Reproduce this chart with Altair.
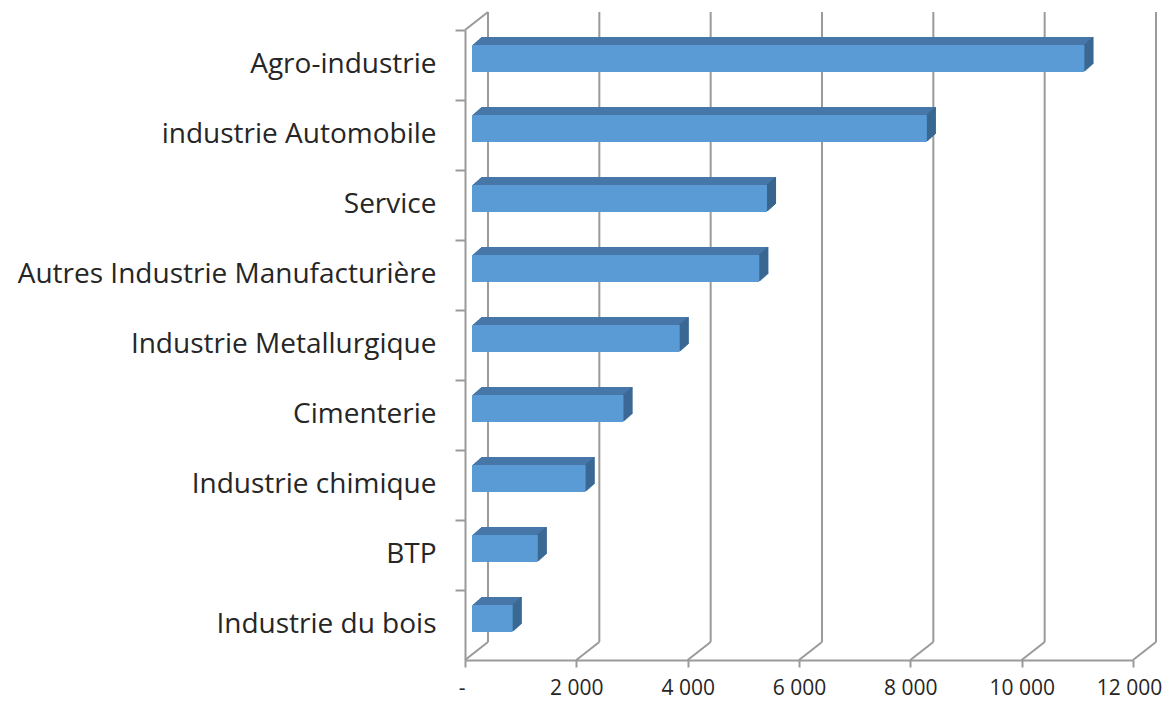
import altair as alt
import pandas as pd

categories = [
    "Agro-industrie",
    "industrie Automobile",
    "Service",
    "Autres Industrie Manufacturière",
    "Industrie Metallurgique",
    "Cimenterie",
    "Industrie chimique",
    "BTP",
    "Industrie du bois",
]
values = [11000, 8170, 5300, 5160, 3730, 2720, 2040, 1180, 730]
x_ticks = [0, 2000, 4000, 6000, 8000, 10000, 12000]

df = pd.DataFrame({"cat": categories, "value": values})
ticks_df = pd.DataFrame({"t": x_ticks})

W, H = 668, 630
DX, DY = 23, 18          # depth of back wall
BX, BY = 7, 6.5          # bar front-face depth shift
DEPTH = 9                # bar extrusion (px in x)
DEPTH_Y = 8
PAD_INNER, PAD_OUTER = 0.614, 0.307

GRID = "#9a9a9a"
FRONT = "#5B9BD5"
TOP = "#4677A8"
SIDE = "#38658E"
FONT = "Open Sans"

xscale = alt.Scale(domain=[0, 12000], nice=False, zero=True)
yscale = alt.Scale(domain=categories, paddingInner=PAD_INNER, paddingOuter=PAD_OUTER)
# tick at step boundary: fraction of bandwidth before band start
band_pos = -(PAD_INNER / 2) / (1 - PAD_INNER)

x_axis = alt.Axis(
    values=x_ticks,
    grid=False,
    domainColor=GRID, domainWidth=2,
    tickColor=GRID, tickWidth=2, tickSize=7,
    labelFont=FONT, labelFontSize=21, labelColor="#262626",
    labelPadding=10,
    labelAlign={"condition": {"test": "datum.value == 0", "value": "right"}, "value": "center"},
    labelOffset={"condition": {"test": "datum.value == 12000", "value": -4}, "value": 0},
    labelExpr="datum.value == 0 ? '-\u00a0\u00a0' : replace(format(datum.value, ',d'), ',', ' ')",
    title=None,
)
y_axis = alt.Axis(
    grid=False,
    bandPosition=band_pos,
    domainColor=GRID, domainWidth=2,
    tickColor=GRID, tickWidth=2, tickSize=10,
    labelFont=FONT, labelFontSize=28, labelColor="#262626",
    labelPadding=19, labelLimit=600,
    title=None,
)

# back wall gridlines
back = alt.Chart(ticks_df).mark_rule(color=GRID, strokeWidth=2, xOffset=DX, x2Offset=DX).encode(
    x=alt.X("t:Q", scale=xscale, axis=x_axis),
    y=alt.value(-DY),
    y2=alt.value(H - DY),
)
# floor diagonals
floor = alt.Chart(ticks_df).mark_rule(color=GRID, strokeWidth=2, x2Offset=DX).encode(
    x=alt.X("t:Q", scale=xscale),
    x2="t:Q",
    y=alt.value(H),
    y2=alt.value(H - DY),
)
# left wall top diagonal
wall = alt.Chart(pd.DataFrame({"t": [0]})).mark_rule(color=GRID, strokeWidth=2, x2Offset=DX).encode(
    x=alt.X("t:Q", scale=xscale),
    x2="t:Q",
    y=alt.value(0),
    y2=alt.value(-DY),
)

layers = [back, floor, wall]

# top face (staircase of shifted rects)
for k in range(1, DEPTH + 1):
    ox = BX + k
    oy = -BY - k * DEPTH_Y / DEPTH
    layers.append(
        alt.Chart(df).mark_bar(color=TOP, xOffset=ox, x2Offset=ox, yOffset=oy, y2Offset=oy).encode(
            x=alt.X("value:Q", scale=xscale),
            x2=alt.datum(0),
            y=alt.Y("cat:N", scale=yscale, sort=categories, axis=y_axis),
        )
    )
# side face (1px strips)
for k in range(1, DEPTH + 1):
    oy = -BY - k * DEPTH_Y / DEPTH
    layers.append(
        alt.Chart(df).mark_bar(color=SIDE, xOffset=BX + k, x2Offset=BX + k - 1, yOffset=oy, y2Offset=oy).encode(
            x=alt.X("value:Q", scale=xscale),
            x2="value:Q",
            y=alt.Y("cat:N", scale=yscale, sort=categories),
        )
    )
# front face
layers.append(
    alt.Chart(df).mark_bar(color=FRONT, xOffset=BX, x2Offset=BX, yOffset=-BY, y2Offset=-BY).encode(
        x=alt.X("value:Q", scale=xscale),
        x2=alt.datum(0),
        y=alt.Y("cat:N", scale=yscale, sort=categories),
    )
)

chart = alt.layer(*layers).properties(
    width=W, height=H,
    background="white",
    autosize=alt.AutoSizeParams(type="none"),
    padding={"left": 457, "top": 22, "right": 30, "bottom": 46},
).configure_view(stroke=None)

chart.save("out.html", embed_options={"renderer": "svg", "actions": False})
